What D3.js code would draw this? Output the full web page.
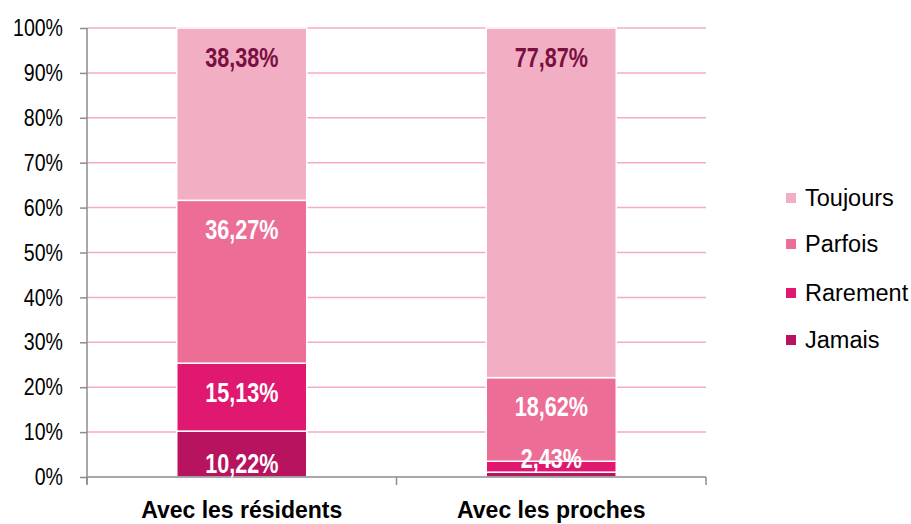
<!DOCTYPE html>
<html><head><meta charset="utf-8">
<script src="https://cdn.jsdelivr.net/npm/d3@7"></script>
<style>
body{margin:0;background:#fff;}
svg{display:block;}
</style></head>
<body>
<svg id="chart" width="911" height="524"></svg>
<script>
const categories = ["Avec les résidents", "Avec les proches"];
const seriesNames = ["Jamais", "Rarement", "Parfois", "Toujours"];
const jamais   = [10.22, 1.08];
const rarement = [15.13, 2.43];
const parfois  = [36.27, 18.62];
const toujours = [38.38, 77.87];
const yTicks = [0,10,20,30,40,50,60,70,80,90,100];
const colors = {Jamais:"#b8135e", Rarement:"#e0186f", Parfois:"#ec6d96", Toujours:"#f2aec2"};
const labelColors = {Jamais:"#fff", Rarement:"#fff", Parfois:"#fff", Toujours:"#7a1042"};
const labelShown = {Jamais:[true,false], Rarement:[true,true], Parfois:[true,true], Toujours:[true,true]};

const valuesBy = {Jamais:jamais, Rarement:rarement, Parfois:parfois, Toujours:toujours};
const rows = categories.map((c,i)=>{const r={cat:c}; seriesNames.forEach(s=>r[s]=valuesBy[s][i]); return r;});
const stacked = d3.stack().keys(seriesNames)(rows);

const svg = d3.select("#chart");
const pLeft=87, pRight=706, pTop=28, pBottom=477;
const x = d3.scaleBand().domain(categories).range([pLeft,pRight]).paddingInner(0.58).paddingOuter(0.29);
const y = d3.scaleLinear().domain([0,100]).range([pBottom,pTop]);
const reg = "'Liberation Sans',Arial,sans-serif";
const narrowScale = 0.815;

// gridlines
svg.append("g").selectAll("line").data(yTicks.filter(t=>t>0)).join("line")
  .attr("x1",pLeft).attr("x2",pRight).attr("y1",d=>y(d)).attr("y2",d=>y(d))
  .attr("stroke","#f7a9cc").attr("stroke-width",1.5);

// y axis
const yAxis = svg.append("g").attr("transform",`translate(${pLeft},0)`)
  .call(d3.axisLeft(y).tickValues(yTicks).tickFormat(d=>d+"%").tickSize(7).tickPadding(17));
yAxis.select(".domain").attr("stroke","#8c8c8c").attr("stroke-width",1.5).attr("d",`M0,${pBottom+7}V${pTop}`);
yAxis.selectAll(".tick line").attr("stroke","#8c8c8c").attr("stroke-width",1.5);
yAxis.selectAll(".tick text").attr("font-family",reg).attr("font-size","24px").attr("fill","#000")
  .attr("x",-24/narrowScale).attr("transform",`scale(${narrowScale},1)`);

// bars
const gBars = svg.append("g");
stacked.forEach(layer=>{
  gBars.append("g").selectAll("rect").data(layer).join("rect")
    .attr("x",d=>x(d.data.cat)).attr("width",x.bandwidth())
    .attr("y",d=>y(d[1])).attr("height",d=>y(d[0])-y(d[1]))
    .attr("fill",colors[layer.key]).attr("stroke","#fff").attr("stroke-width",1.5);
});

// x axis
const xAxisG = svg.append("g");
xAxisG.append("line").attr("x1",pLeft).attr("x2",pRight).attr("y1",pBottom).attr("y2",pBottom)
  .attr("stroke","#8c8c8c").attr("stroke-width",1.5);
const xEdges = [pLeft, (pLeft+pRight)/2, pRight];
xAxisG.selectAll(".xt").data(xEdges).join("line").attr("class","xt")
  .attr("x1",d=>d).attr("x2",d=>d).attr("y1",pBottom).attr("y2",pBottom+8)
  .attr("stroke","#8c8c8c").attr("stroke-width",1.5);
xAxisG.selectAll("text").data(categories).join("text")
  .attr("x",d=>x(d)+x.bandwidth()/2).attr("y",518)
  .attr("text-anchor","middle").attr("font-family",reg).attr("font-weight","bold")
  .attr("font-size","23px").text(d=>d);

// labels
const fmt = v => v.toFixed(2).replace(".",",")+"%";
const gLab = svg.append("g");
stacked.forEach(layer=>{
  layer.forEach((d,i)=>{
    if(!labelShown[layer.key][i]) return;
    const yt=y(d[1]), yb=y(d[0]);
    const cy = (yb-yt)>=50 ? yt+29 : yb-14;
    gLab.append("g").attr("transform",`translate(${x(d.data.cat)+x.bandwidth()/2},${cy}) scale(0.8,1)`)
      .append("text").attr("dy","0.36em").attr("text-anchor","middle")
      .attr("font-family",reg).attr("font-weight","bold").attr("font-size","27px")
      .attr("fill",labelColors[layer.key]).text(fmt(d.data[layer.key]));
  });
});

// legend
const legendOrder = ["Toujours","Parfois","Rarement","Jamais"];
const legendY = [198,244,293,340];
const lg = svg.append("g");
legendOrder.forEach((s,i)=>{
  lg.append("rect").attr("x",786).attr("y",legendY[i]-5).attr("width",10).attr("height",10).attr("fill",colors[s]);
  lg.append("text").attr("x",805).attr("y",legendY[i]).attr("dy","0.36em")
    .attr("font-family",reg).attr("font-size","23.5px").attr("fill","#000").text(s);
});
</script>
</body></html>
